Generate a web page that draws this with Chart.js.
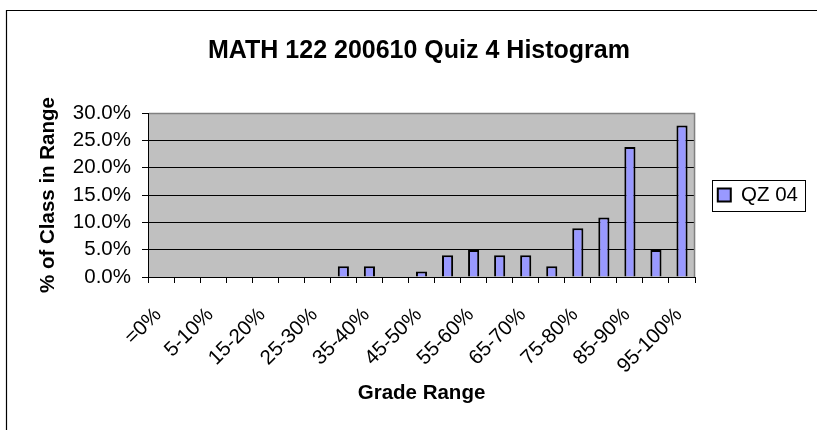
<!DOCTYPE html>
<html><head><meta charset="utf-8">
<script src="https://cdn.jsdelivr.net/npm/chart.js@4.4.0/dist/chart.umd.min.js"></script>
<style>html,body{margin:0;padding:0;background:#fff;overflow:hidden}canvas{display:block}</style>
</head><body>
<canvas id="c" width="817" height="430"></canvas>
<script>
const chartTitle = 'MATH 122 200610 Quiz 4 Histogram';
const xTitle = 'Grade Range';
const yTitle = '% of Class in Range';
const seriesLabel = 'QZ 04';
const categories = ['=0%','0-5%','5-10%','10-15%','15-20%','20-25%','25-30%','30-35%','35-40%','40-45%','45-50%','50-55%','55-60%','60-65%','65-70%','70-75%','75-80%','80-85%','85-90%','90-95%','95-100%'];
const values = [0, 0, 0, 0, 0, 0, 0, 0.0198, 0.0198, 0, 0.0099, 0.0396, 0.0495, 0.0396, 0.0396, 0.0198, 0.0891, 0.1089, 0.2376, 0.0495, 0.2772];
const yMin = 0, yMax = 0.3, yStep = 0.05;

Chart.defaults.font.family = '"Liberation Sans", Arial, sans-serif';
Chart.defaults.color = '#000';

const plotFrame = {
  id: 'plotFrame',
  beforeDraw(chart) {
    const {ctx, chartArea: a} = chart;
    ctx.save();
    ctx.fillStyle = '#fff';
    ctx.fillRect(0, 0, chart.width, chart.height);
    ctx.fillStyle = '#C0C0C0';
    ctx.fillRect(a.left, a.top, a.right - a.left, a.bottom - a.top);
    ctx.restore();
  },
  afterDraw(chart) {
    const {ctx, chartArea: a} = chart;
    ctx.save();
    ctx.strokeStyle = '#808080';
    ctx.lineWidth = 1.5;
    ctx.beginPath();
    ctx.moveTo(a.left + 1, a.top + 0.5);
    ctx.lineTo(a.right - 0.5, a.top + 0.5);
    ctx.lineTo(a.right - 0.5, a.bottom);
    ctx.stroke();
    ctx.strokeStyle = '#000';
    ctx.lineWidth = 1.2;
    ctx.beginPath();
    ctx.moveTo(6.5, chart.height);
    ctx.lineTo(6.5, 10.5);
    ctx.lineTo(chart.width, 10.5);
    ctx.stroke();
    const lg = chart.legend;
    if (lg && lg.legendHitBoxes && lg.legendHitBoxes.length) {
      const hb = lg.legendHitBoxes[0];
      const cy = hb.top + hb.height / 2;
      ctx.lineWidth = 1;
      ctx.strokeRect(Math.round(hb.left - 6) + 0.5, Math.round(cy - 15.5) + 0.5, 93, 31);
    }
    ctx.restore();
  }
};

new Chart(document.getElementById('c'), {
  type: 'bar',
  data: {
    labels: categories,
    datasets: [{
      label: seriesLabel,
      data: values,
      backgroundColor: '#9999FF',
      borderColor: '#000',
      borderWidth: 2,
      categoryPercentage: 1,
      barPercentage: 0.427
    }]
  },
  options: {
    responsive: false,
    animation: false,
    devicePixelRatio: 1,
    layout: { padding: { left: 30, right: 9, top: 0, bottom: 0 } },
    plugins: {
      title: { display: true, text: chartTitle, color: '#000', font: { size: 25, weight: 'bold' }, padding: { top: 36, bottom: 47 } },
      legend: { position: 'right', fullSize: false, labels: { color: '#000', font: { size: 20.5 }, boxWidth: 13, boxHeight: 13, padding: 22.75 } },
      tooltip: { enabled: false }
    },
    scales: {
      x: {
        grid: { offset: true, drawOnChartArea: false, drawTicks: true, tickLength: 6, tickColor: '#000', tickWidth: 1 },
        border: { color: '#000', width: 1 },
        ticks: {
          color: '#000', font: { size: 20.5 }, autoSkip: false, minRotation: 45, maxRotation: 45, padding: 20, labelOffset: -3,
          callback: function(v, i) { return i % 2 === 0 ? this.getLabelForValue(v) : ''; }
        },
        title: { display: true, text: xTitle, color: '#000', font: { size: 20.5, weight: 'bold' }, padding: { top: 0, bottom: 24 } },
        afterFit(s) { s.height = 153; }
      },
      y: {
        min: yMin, max: yMax,
        ticks: { stepSize: yStep, autoSkip: false, color: '#000', font: { size: 20.5 }, padding: 11, callback: v => (v * 100).toFixed(1) + '%' },
        grid: { color: c => (c.tick && c.tick.value > 0.299) ? '#808080' : '#000', lineWidth: 1, drawTicks: true, tickLength: 6, tickColor: '#000' },
        border: { color: '#000', width: 1 },
        title: { display: true, text: yTitle, color: '#000', font: { size: 20.5, weight: 'bold' }, padding: { top: 6, bottom: 0 } },
        afterFit(s) { s.width = 118; }
      }
    }
  },
  plugins: [plotFrame]
});
</script>
</body></html>
